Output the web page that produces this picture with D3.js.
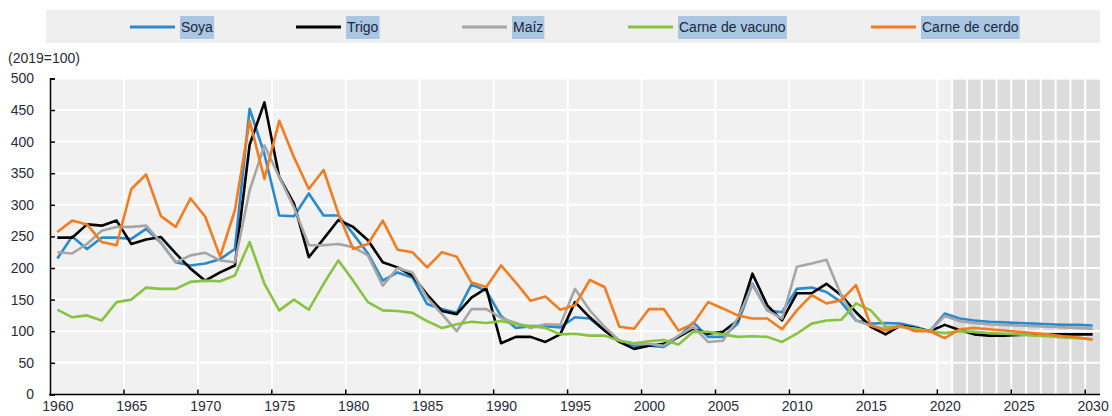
<!DOCTYPE html>
<html>
<head>
<meta charset="utf-8">
<script src="https://cdn.jsdelivr.net/npm/d3@7"></script>
<style>
  body { margin: 0; background: #fff; }
  text { font-family: "Liberation Sans", Arial, sans-serif; }
</style>
</head>
<body>
<div id="chart"></div>
<script>

  // ---- data (index, 2019 = 100) ----
  var years = d3.range(1960, 2031);
  var yTicks = [0, 50, 100, 150, 200, 250, 300, 350, 400, 450, 500];
  var seriesNames = ["Soya", "Trigo", "Maíz", "Carne de vacuno", "Carne de cerdo"];
  var seriesColors = ["#2a8ad0", "#000000", "#a6a6a6", "#86c440", "#f47c20"];

  var soya = [215, 250, 230, 248, 248, 246, 262, 240, 209, 204,
              207, 214, 230, 452, 380, 283, 282, 318, 283, 283,
              254, 223, 180, 193, 185, 143, 135, 129, 174, 164,
              124, 105, 108, 108, 106, 122, 120, 101, 85, 77,
              77, 75, 91, 114, 91, 91, 112, 175, 133, 130,
              167, 169, 162, 146, 117, 112, 113, 112, 107, 100,
              128, 120, 117, 115, 114, 113, 112, 111, 110, 110, 109];
  var trigo = [248, 248, 269, 267, 275, 238, 245, 249, 223, 199,
               180, 193, 204, 395, 462, 344, 302, 217, 246, 276,
               265, 244, 209, 201, 188, 158, 132, 127, 153, 168,
               81, 91, 91, 83, 95, 146, 122, 101, 83, 72,
               77, 80, 91, 104, 96, 99, 117, 191, 141, 117,
               160, 160, 175, 157, 130, 107, 95, 109, 105, 100,
               110, 102, 95, 93, 93, 94, 95, 95, 95, 95, 95];
  var maiz = [225, 223, 238, 259, 265, 265, 267, 240, 209, 220,
              224, 212, 209, 323, 394, 344, 296, 236, 236, 238,
              233, 220, 172, 200, 193, 153, 127, 100, 135, 135,
              121, 113, 105, 111, 110, 167, 133, 107, 85, 80,
              80, 77, 93, 107, 83, 85, 120, 173, 133, 120,
              202, 207, 213, 157, 117, 109, 104, 107, 104, 100,
              124, 116, 113, 111, 110, 109, 108, 107, 106, 105, 104];
  var vacuno = [134, 122, 125, 117, 146, 150, 169, 167, 167, 178,
                180, 179, 188, 241, 175, 133, 150, 134, 175, 212,
                180, 146, 133, 132, 129, 116, 105, 111, 115, 113,
                116, 111, 108, 105, 95, 96, 93, 93, 85, 81,
                84, 86, 79, 99, 99, 95, 91, 92, 91, 83,
                96, 112, 117, 118, 144, 133, 107, 107, 104, 100,
                97, 100, 99, 97, 96, 95, 93, 92, 90, 89, 87];
  var cerdo = [257, 275, 269, 241, 236, 325, 348, 282, 265, 310,
               281, 218, 291, 433, 341, 433, 375, 325, 355, 286,
               230, 238, 275, 229, 225, 201, 225, 218, 177, 170,
               204, 177, 148, 155, 134, 141, 181, 170, 107, 104,
               135, 135, 101, 112, 146, 136, 125, 120, 120, 103,
               133, 157, 144, 149, 173, 109, 101, 109, 100, 100,
               89, 103, 105, 103, 101, 99, 97, 95, 92, 90, 87];
  var seriesValues = [soya, trigo, maiz, vacuno, cerdo];
  var firstProjection = 2021;

  //=========================================================================
  // Set Dimensions
  //=========================================================================
  var width = 1112, height = 416;
  var plotLeft = 50, plotRight = 1100, plotTop = 78.4, plotBottom = 394.4;

  var svg = d3.select("#chart").append("svg")
    .attr("width", width)
    .attr("height", height);

  var x = d3.scalePoint().domain(years).range([plotLeft, plotRight]).padding(0.5);
  var step = x.step();
  var y = d3.scaleLinear().domain([0, 500]).range([plotBottom, plotTop]);

  //=========================================================================
  // Plot background, projection band, grid
  //=========================================================================
  svg.append("rect")
    .attr("x", plotLeft).attr("y", plotTop)
    .attr("width", plotRight - plotLeft).attr("height", plotBottom - plotTop)
    .attr("fill", "#f1f1f1");

  var projYears = years.filter(function(d) { return d >= firstProjection; });
  svg.append("g").selectAll("rect")
    .data(projYears)
    .enter().append("rect")
    .attr("x", function(d) { return x(d) - step / 2; })
    .attr("y", plotTop)
    .attr("width", step)
    .attr("height", plotBottom - plotTop)
    .attr("fill", "#dcdcdc");

  var grid = svg.append("g").attr("stroke", "#ffffff").attr("stroke-width", 2);
  grid.selectAll(".hgrid")
    .data(yTicks.filter(function(d) { return d > 0; }))
    .enter().append("line")
    .attr("x1", plotLeft).attr("x2", plotRight)
    .attr("y1", function(d) { return y(d); })
    .attr("y2", function(d) { return y(d); });

  var vLines = years.filter(function(d) {
    return (d > 1960 && d % 5 == 0) || d >= firstProjection;
  });
  grid.selectAll(".vgrid")
    .data(vLines)
    .enter().append("line")
    .attr("x1", function(d) { return x(d) - step / 2; })
    .attr("x2", function(d) { return x(d) - step / 2; })
    .attr("y1", plotTop).attr("y2", plotBottom);

  //=========================================================================
  // Lines
  //=========================================================================
  var line = d3.line()
    .x(function(d, i) { return x(years[i]); })
    .y(function(d) { return y(d); });

  svg.append("g").selectAll("path")
    .data(seriesValues)
    .enter().append("path")
    .attr("d", line)
    .attr("fill", "none")
    .attr("stroke", function(d, i) { return seriesColors[i]; })
    .attr("stroke-width", 2.6)
    .attr("stroke-linejoin", "round");

  //=========================================================================
  // Axes
  //=========================================================================
  var yAxis = svg.append("g")
    .attr("transform", "translate(" + plotLeft + ",0)")
    .call(d3.axisLeft(y).tickValues(yTicks).tickSize(-5).tickPadding(16));
  yAxis.select(".domain").attr("stroke", "#000").attr("stroke-width", 1.5);
  yAxis.selectAll(".tick line").attr("stroke", "#000").attr("stroke-width", 1.5);
  yAxis.selectAll("text").attr("font-size", 14).attr("fill", "#2b2b3a");

  var labelYears = years.filter(function(d) { return d % 5 == 0; });
  var xAxis = svg.append("g")
    .attr("transform", "translate(0," + plotBottom + ")")
    .call(d3.axisBottom(x).tickValues(labelYears).tickSize(0).tickPadding(7));
  xAxis.select(".domain").remove();
  xAxis.selectAll("text").attr("font-size", 14).attr("fill", "#2b2b3a");

  svg.append("line")
    .attr("x1", plotLeft - 1).attr("x2", plotRight)
    .attr("y1", plotBottom).attr("y2", plotBottom)
    .attr("stroke", "#000").attr("stroke-width", 1.5);

  svg.append("g").selectAll("line")
    .data(labelYears.filter(function(d) { return d > 1960; }))
    .enter().append("line")
    .attr("x1", function(d) { return x(d) - step / 2; })
    .attr("x2", function(d) { return x(d) - step / 2; })
    .attr("y1", plotBottom).attr("y2", plotBottom - 5)
    .attr("stroke", "#000").attr("stroke-width", 1.5);

  svg.append("text")
    .attr("x", 8).attr("y", 63)
    .attr("font-size", 14)
    .attr("fill", "#2b2b3a")
    .text("(2019=100)");

  //=========================================================================
  // Legend
  //=========================================================================
  svg.append("rect")
    .attr("x", 46).attr("y", 10)
    .attr("width", 1054).attr("height", 33)
    .attr("fill", "#efefef");

  var legendX = [130, 296, 462, 628, 871];
  var legend = svg.append("g").selectAll("g")
    .data(seriesNames)
    .enter().append("g")
    .attr("transform", function(d, i) { return "translate(" + legendX[i] + ",27)"; });

  legend.append("line")
    .attr("x1", 0).attr("x2", 45)
    .attr("stroke", function(d, i) { return seriesColors[i]; })
    .attr("stroke-width", 3);

  var ltext = legend.append("text")
    .attr("x", 51).attr("y", 5)
    .attr("font-size", 14)
    .attr("fill", "#1c2740")
    .text(function(d) { return d; });

  ltext.each(function() {
    var b = this.getBBox();
    d3.select(this.parentNode).insert("rect", "text")
      .attr("x", b.x - 1).attr("y", -11)
      .attr("width", b.width + 2).attr("height", 23)
      .attr("fill", "#a9c6e2");
  });

</script>
</body>
</html>
